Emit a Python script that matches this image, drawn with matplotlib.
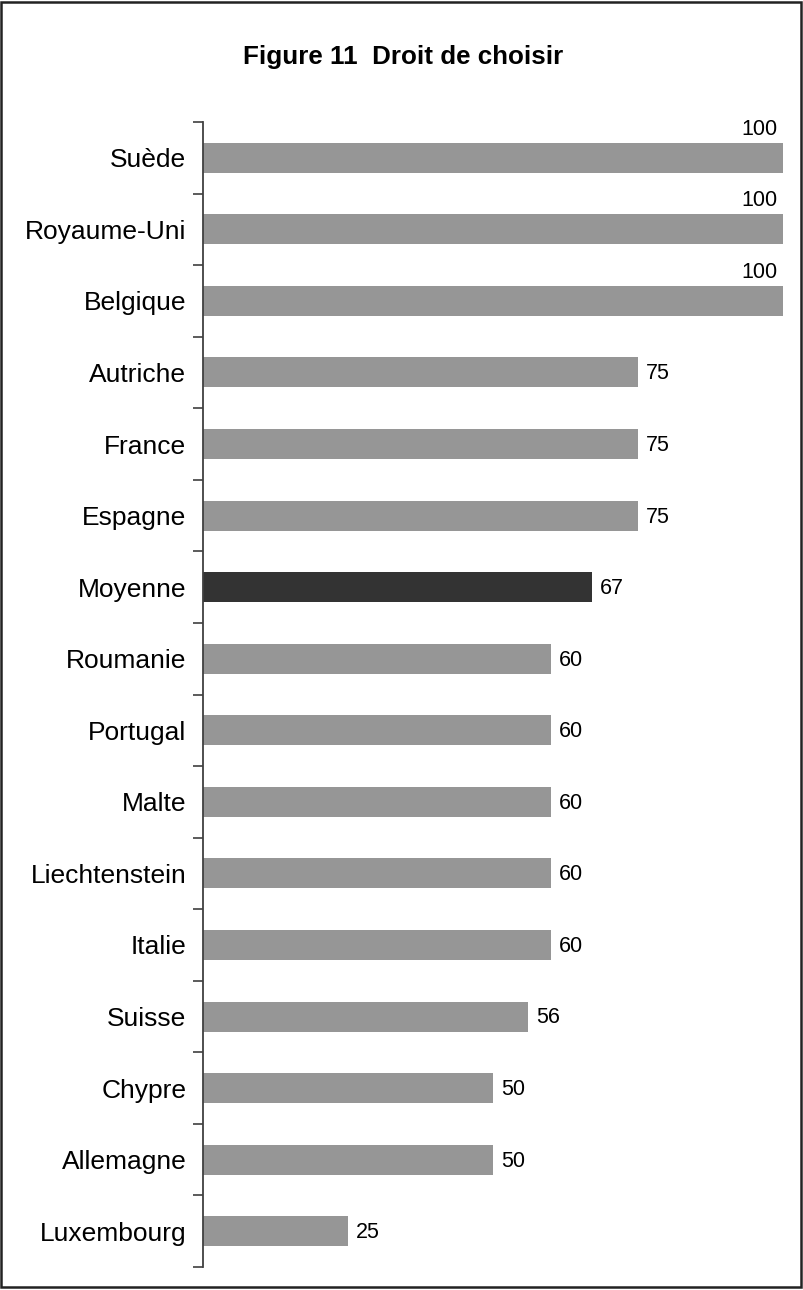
import matplotlib.pyplot as plt
from matplotlib.patches import Rectangle

plt.rcParams['font.family'] = ['Liberation Sans', 'DejaVu Sans']

countries = ['Suède', 'Royaume-Uni', 'Belgique', 'Autriche', 'France', 'Espagne',
             'Moyenne', 'Roumanie', 'Portugal', 'Malte', 'Liechtenstein', 'Italie',
             'Suisse', 'Chypre', 'Allemagne', 'Luxembourg']
scores = [100, 100, 100, 75, 75, 75, 67, 60, 60, 60, 60, 60, 56, 50, 50, 25]
highlight = 'Moyenne'

fig = plt.figure(figsize=(8.04, 12.9), dpi=100)
ax = fig.add_axes([203 / 804, 1 - 1267 / 1290, 580 / 804, 1145 / 1290])

n = len(countries)
colors = ['#333333' if c == highlight else '#969696' for c in countries]
ypos = list(range(n))
ax.barh(ypos, scores, height=0.42, color=colors, zorder=2)

ax.set_xlim(0, 100)
ax.set_ylim(n - 0.5, -0.5)

# value labels: full-length bars get theirs above the bar end
for y, v in zip(ypos, scores):
    if v >= 100:
        ax.text(v - 0.9, y - 0.25, str(v), ha='right', va='bottom', fontsize=15.5)
    else:
        ax.text(v + 1.4, y + 0.02, str(v), ha='left', va='center', fontsize=15.5)

ax.set_yticks(ypos)
ax.set_yticklabels(countries, fontsize=19)
ax.tick_params(axis='y', which='major', length=0, pad=12)
ax.set_yticks([i - 0.5 for i in range(n + 1)], minor=True)
ax.tick_params(axis='y', which='minor', length=7, width=1.2, color='#404040', direction='out')
ax.set_xticks([])

for side in ['top', 'right', 'bottom']:
    ax.spines[side].set_visible(False)
ax.spines['left'].set_color('#404040')
ax.spines['left'].set_linewidth(1.3)

fig.text(403 / 804, 1 - 57 / 1290, 'Figure 11  Droit de choisir',
         ha='center', va='center', fontsize=18.7, fontweight='bold')

# outer frame around the whole figure
fig.patches.append(Rectangle((1.5 / 804, 1 - 1287 / 1290), 800 / 804, 1285 / 1290,
                             transform=fig.transFigure, fill=False,
                             edgecolor='#222222', linewidth=1.8))

fig.savefig('out.png', dpi=100)
